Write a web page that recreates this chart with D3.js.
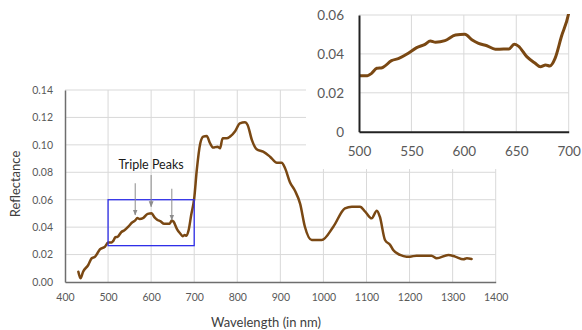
<!DOCTYPE html>
<html><head><meta charset="utf-8">
<script src="https://cdn.jsdelivr.net/npm/d3@7"></script>
<style>body{margin:0;background:#fff}svg{display:block}text{font-family:Lato,"Open Sans",sans-serif}</style>
</head><body><svg id="c" width="582" height="330"></svg>
<script>
const wavelength = [431,436,442,454,462,470,481,493,500,508,512,517,522,531,538,547,555,563,568,573,582,592,601,608,614,622,630,638,643,648,652,660,668,673,678,682,687,693,700,706,714,721,729,737,744,754,760,766,775,783,795,806,818,824,834,845,860,876,892,903,911,922,934,946,957,973,996,1023,1050,1066,1085,1097,1112,1124,1131,1143,1155,1162,1178,1193,1201,1216,1251,1263,1290,1306,1325,1333,1344];
const reflectance = [0.0075,0.0027,0.0075,0.0124,0.0173,0.0185,0.0238,0.0258,0.0288,0.0288,0.0300,0.0326,0.0329,0.0365,0.0377,0.0403,0.0432,0.0449,0.0466,0.0460,0.0468,0.0497,0.0501,0.0471,0.0454,0.0442,0.0424,0.0425,0.0425,0.0449,0.0440,0.0386,0.0352,0.0334,0.0343,0.0338,0.0377,0.0488,0.0609,0.0817,0.101,0.106,0.1065,0.101,0.098,0.0987,0.0975,0.1048,0.1048,0.106,0.110,0.1157,0.1165,0.1145,0.1035,0.0968,0.0950,0.0914,0.0870,0.0870,0.0830,0.0730,0.0665,0.0570,0.0403,0.0306,0.0306,0.0403,0.0537,0.0549,0.0549,0.0513,0.0464,0.0520,0.0476,0.0306,0.0270,0.0233,0.0197,0.0185,0.0185,0.0192,0.0192,0.0173,0.0197,0.0185,0.0166,0.0173,0.0168];
const mainXTicks = [400,500,600,700,800,900,1000,1100,1200,1300,1400];
const mainYTicks = [0,0.02,0.04,0.06,0.08,0.10,0.12,0.14];
const insetXTicks = [500,550,600,650,700];
const insetYTicks = [0,0.02,0.04,0.06];
const boxRange = {x0:500, x1:700, y0:0.0265, y1:0.06};
const peakArrows = [{w:563, from:0.072, to:0.0489},{w:600, from:0.078, to:0.0549},{w:648, from:0.068, to:0.0452}];
const annotation = {text:"Triple Peaks", w:600, v:0.0824};

const data = wavelength.map((w,i)=>({w, v:reflectance[i]}));
const svg = d3.select("#c");
const lineColor = "#7a4813";

// main chart
const x = d3.scaleLinear().domain([400,1400]).range([65,495.7]);
const y = d3.scaleLinear().domain([0,0.14]).range([282,90]);
const g = svg.append("g");
g.selectAll(".vg").data(mainXTicks.slice(1)).join("line")
 .attr("x1",d=>x(d)).attr("x2",d=>x(d)).attr("y1",y(0)).attr("y2",y(0.14))
 .attr("stroke","#d9d9d9").attr("stroke-width",1);
g.selectAll(".hg").data(mainYTicks.slice(1)).join("line")
 .attr("x1",x(400)).attr("x2",x(1400)).attr("y1",d=>y(d)).attr("y2",d=>y(d))
 .attr("stroke","#d9d9d9").attr("stroke-width",1);

const ax = g.append("g").attr("transform",`translate(0,${y(0)})`)
 .call(d3.axisBottom(x).tickValues(mainXTicks).tickSize(0).tickPadding(12).tickFormat(d3.format("d")));
ax.select(".domain").attr("stroke","#6e6e6e").attr("stroke-width",1.5);
ax.selectAll("text").attr("fill","#595959").style("font-size","10.5px");
const ay = g.append("g").attr("transform",`translate(${x(400)},0)`)
 .call(d3.axisLeft(y).tickValues(mainYTicks).tickSize(0).tickPadding(12).tickFormat(d3.format(".2f")));
ay.select(".domain").attr("stroke","#6e6e6e").attr("stroke-width",1.5);
ay.selectAll("text").attr("fill","#595959").style("font-size","10.5px");

const line = d3.line().x(d=>x(d.w)).y(d=>y(d.v)).curve(d3.curveMonotoneX);
g.append("path").datum(data).attr("d",line).attr("fill","none")
 .attr("stroke",lineColor).attr("stroke-width",2.5).attr("stroke-linejoin","round").attr("stroke-linecap","round");

g.append("rect").attr("x",x(boxRange.x0)).attr("y",y(boxRange.y1))
 .attr("width",x(boxRange.x1)-x(boxRange.x0)).attr("height",y(boxRange.y0)-y(boxRange.y1))
 .attr("fill","none").attr("stroke","#2f2fe8").attr("stroke-width",1.3);

const defs = svg.append("defs");
defs.append("marker").attr("id","ah").attr("viewBox","0 0 10 10").attr("refX",9).attr("refY",5)
 .attr("markerWidth",6).attr("markerHeight",6).attr("orient","auto")
 .append("path").attr("d","M0,1 L10,5 L0,9 Z").attr("fill","#8c8c8c");
g.selectAll(".arr").data(peakArrows).join("line")
 .attr("x1",d=>x(d.w)).attr("x2",d=>x(d.w)).attr("y1",d=>y(d.from)).attr("y2",d=>y(d.to))
 .attr("stroke","#8c8c8c").attr("stroke-width",1).attr("marker-end","url(#ah)");
g.append("text").attr("x",x(annotation.w)).attr("y",y(annotation.v)).attr("text-anchor","middle")
 .attr("fill","#1a1a1a").style("font-size","12.5px").text(annotation.text);

svg.append("text").attr("transform","translate(20,184) rotate(-90)").attr("text-anchor","middle")
 .attr("fill","#404040").style("font-size","13px").text("Reflectance");
svg.append("text").attr("x",266).attr("y",327).attr("text-anchor","middle")
 .attr("fill","#404040").style("font-size","13px").text("Wavelength (in nm)");

// inset
svg.append("rect").attr("x",306).attr("y",0).attr("width",276).attr("height",169).attr("fill","#fff");
const xi = d3.scaleLinear().domain([500,700]).range([359,568.7]);
const yi = d3.scaleLinear().domain([0,0.06]).range([131.7,15]);
const gi = svg.append("g");
gi.selectAll(".ivg").data(insetXTicks.slice(1)).join("line")
 .attr("x1",d=>xi(d)).attr("x2",d=>xi(d)).attr("y1",yi(0)).attr("y2",yi(0.06))
 .attr("stroke","#d9d9d9").attr("stroke-width",1);
gi.selectAll(".ihg").data(insetYTicks.slice(1)).join("line")
 .attr("x1",xi(500)).attr("x2",xi(700)).attr("y1",d=>yi(d)).attr("y2",d=>yi(d))
 .attr("stroke","#d9d9d9").attr("stroke-width",1);
defs.append("clipPath").attr("id","ic").append("rect")
 .attr("x",xi(500)).attr("y",yi(0.06)-1).attr("width",xi(700)-xi(500)+2).attr("height",yi(0)-yi(0.06)+1);
const linei = d3.line().x(d=>xi(d.w)).y(d=>yi(d.v)).curve(d3.curveMonotoneX);
gi.append("path").datum(data.filter(d=>d.w>=499 && d.w<=706)).attr("d",linei).attr("fill","none")
 .attr("clip-path","url(#ic)")
 .attr("stroke",lineColor).attr("stroke-width",3).attr("stroke-linejoin","round");
const axi = gi.append("g").attr("transform",`translate(0,${yi(0)})`)
 .call(d3.axisBottom(xi).tickValues(insetXTicks).tickSize(0).tickPadding(15).tickFormat(d3.format("d")));
axi.select(".domain").attr("stroke","#222").attr("stroke-width",2);
axi.selectAll("text").attr("fill","#595959").style("font-size","13.5px");
const ayi = gi.append("g").attr("transform",`translate(${xi(500)},0)`)
 .call(d3.axisLeft(yi).tickValues(insetYTicks).tickSize(0).tickPadding(15).tickFormat(d=>d===0?"0":d3.format(".2f")(d)));
ayi.select(".domain").attr("stroke","#222").attr("stroke-width",2);
ayi.selectAll("text").attr("fill","#595959").style("font-size","13.5px");
</script></body></html>
